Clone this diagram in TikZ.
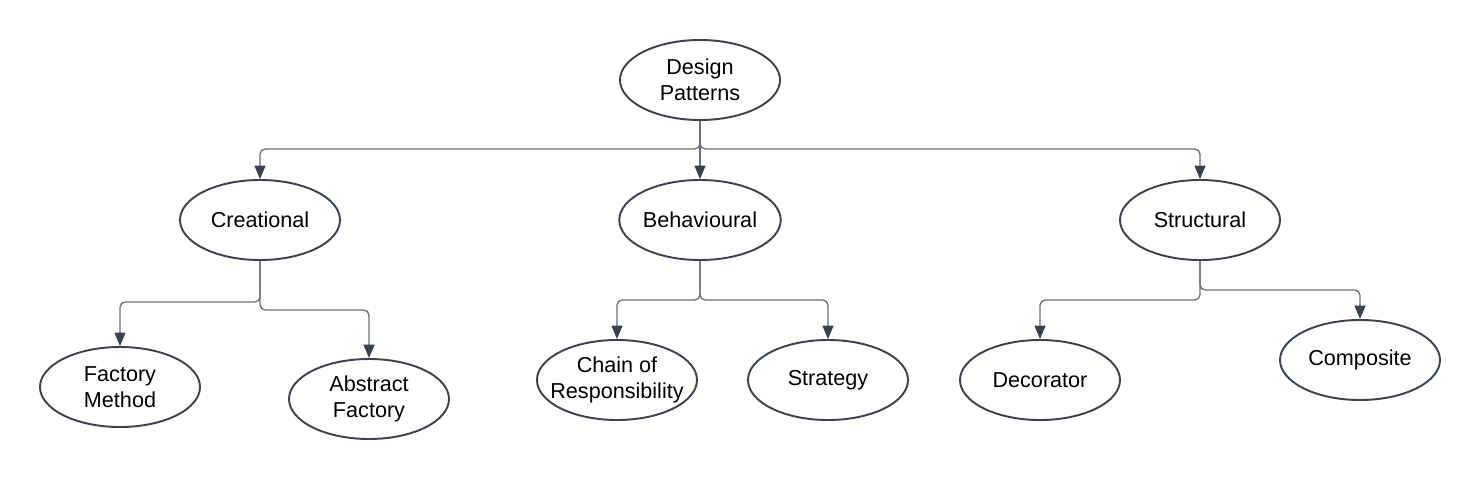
\documentclass[tikz,border=0pt]{standalone}
\usepackage{fontspec}
\setmainfont{Liberation Sans}
\usetikzlibrary{shapes.geometric,arrows.meta}
\definecolor{edgec}{HTML}{3D434D}
\definecolor{linec}{HTML}{6B7079}
\definecolor{tipc}{HTML}{3A414B}
\tikzset{
  ell/.style={ellipse, draw=edgec, line width=1.1pt, fill=white, minimum width=160*0.02cm, minimum height=80*0.02cm, inner sep=0pt, align=center, font=\fontsize{12.3pt}{14.8pt}\selectfont, text=black},
  conn/.style={draw=linec, line width=0.75pt, rounded corners=3pt, -{Triangle[length=7.6pt,width=6.2pt,color=tipc,fill=tipc]}}
}
\begin{document}
\begin{tikzpicture}[x=0.02cm,y=-0.02cm]
\useasboundingbox[fill=white] (0,0) rectangle (1480,480);
\node[ell] (dp) at (700,80) {Design\\Patterns};
\node[ell] (cr) at (260,220) {Creational};
\node[ell] (be) at (700,220) {Behavioural};
\node[ell] (st) at (1200,220) {Structural};
\node[ell] (fm) at (120,387) {Factory\\Method};
\node[ell] (af) at (369,399) {Abstract\\Factory};
\node[ell, inner xsep=-9.5pt] (ch) at (617,380) {Chain of\\Responsibility};
\node[ell] (sg) at (828,380) {Strategy};
\node[ell] (dc) at (1040,380) {Decorator};
\node[ell] (cp) at (1360,360) {Composite};
\coordinate (y0) at (0,149);
\coordinate (y1) at (0,302);
\coordinate (y2) at (0,310);
\coordinate (y3) at (0,300);
\coordinate (y4) at (0,290);
\draw[conn] (dp.south) -- (dp.south |- y0) -| (cr.north);
\draw[conn] (dp.south) -- (be.north);
\draw[conn] (dp.south) -- (dp.south |- y0) -| (st.north);
\draw[conn] (cr.south) -- (cr.south |- y1) -| (fm.north);
\draw[conn] (cr.south) -- (cr.south |- y2) -| (af.north);
\draw[conn] (be.south) -- (be.south |- y3) -| (ch.north);
\draw[conn] (be.south) -- (be.south |- y3) -| (sg.north);
\draw[conn] (st.south) -- (st.south |- y3) -| (dc.north);
\draw[conn] (st.south) -- (st.south |- y4) -| (cp.north);
\end{tikzpicture}
\end{document}
